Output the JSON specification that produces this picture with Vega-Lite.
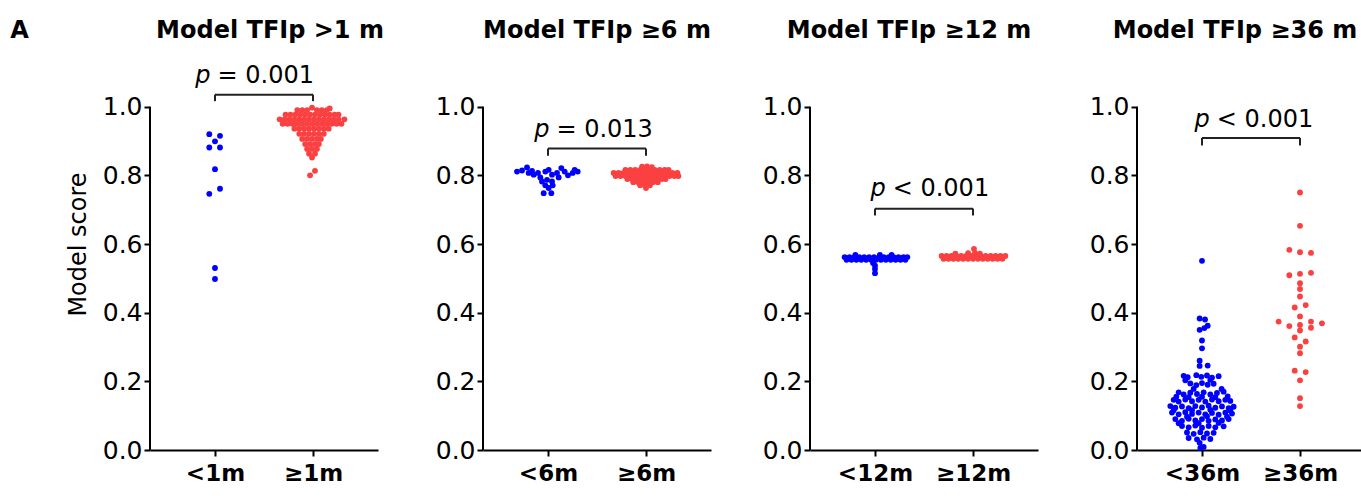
{
  "$schema": "https://vega.github.io/schema/vega-lite/v6.json",
  "padding": {"left": 10, "top": 19, "right": 2, "bottom": 5},
  "title": {"text": "A", "anchor": "start", "frame": "bounds", "fontSize": 24, "fontWeight": "bold", "dx": -56, "offset": -43, "baseline": "alphabetic", "color": "black"},
  "config": {
    "font": "DejaVu Sans",
    "view": {"stroke": null},
    "axis": {"grid": false, "domainColor": "black", "domainWidth": 2, "tickColor": "black", "tickWidth": 2, "tickSize": 6, "labelColor": "black", "titleColor": "black"},
    "axisY": {"domain": false, "labelFontSize": 25, "labelPadding": 2, "titleFontSize": 24, "titleFontWeight": "normal", "titlePadding": 12},
    "axisX": {"labelFontSize": 23, "labelFontWeight": "bold", "labelPadding": 6, "labelAngle": 0},
    "title": {"fontSize": 24, "fontWeight": "bold", "color": "black", "frame": "group", "anchor": "middle", "baseline": "alphabetic", "offset": -5}
  },
  "spacing": 51,
  "datasets": {
    "ann": [
      {"p": 1, "yt": 1.035, "yb": 1.016, "tx": -0.015, "ty": 1.069, "t": "= 0.001"},
      {"p": 2, "yt": 0.878, "yb": 0.857, "tx": 0.045, "ty": 0.913, "t": "= 0.013"},
      {"p": 3, "yt": 0.703, "yb": 0.683, "tx": 0.14, "ty": 0.741, "t": "< 0.001"},
      {"p": 4, "yt": 0.909, "yb": 0.887, "tx": 0.11, "ty": 0.941, "t": "< 0.001"}
    ],
    "pts": [
      {"p":1,"g":0,"x":-0.058,"s":0.920},{"p":1,"g":0,"x":0.051,"s":0.915},{"p":1,"g":0,"x":0.0,"s":0.899},{"p":1,"g":0,"x":-0.058,"s":0.881},{"p":1,"g":0,"x":0.051,"s":0.881},{"p":1,"g":0,"x":0.0,"s":0.818},{"p":1,"g":0,"x":-0.058,"s":0.746},{"p":1,"g":0,"x":0.051,"s":0.761},{"p":1,"g":0,"x":0.0,"s":0.530},{"p":1,"g":0,"x":0.0,"s":0.498},
      {"p":1,"g":1,"x":0.99,"s":0.997},{"p":1,"g":1,"x":1.17,"s":0.995},
      {"p":1,"g":1,"x":0.84,"s":0.990},{"p":1,"g":1,"x":0.89,"s":0.990},{"p":1,"g":1,"x":0.94,"s":0.990},{"p":1,"g":1,"x":1.04,"s":0.990},{"p":1,"g":1,"x":1.09,"s":0.990},{"p":1,"g":1,"x":1.14,"s":0.990},
      {"p":1,"g":1,"x":0.72,"s":0.977},{"p":1,"g":1,"x":0.77,"s":0.977},{"p":1,"g":1,"x":0.82,"s":0.977},{"p":1,"g":1,"x":0.87,"s":0.977},{"p":1,"g":1,"x":0.92,"s":0.977},{"p":1,"g":1,"x":0.97,"s":0.977},{"p":1,"g":1,"x":1.02,"s":0.977},{"p":1,"g":1,"x":1.07,"s":0.977},{"p":1,"g":1,"x":1.12,"s":0.977},{"p":1,"g":1,"x":1.17,"s":0.977},{"p":1,"g":1,"x":1.22,"s":0.977},{"p":1,"g":1,"x":1.26,"s":0.977},
      {"p":1,"g":1,"x":0.66,"s":0.963},{"p":1,"g":1,"x":0.71,"s":0.963},{"p":1,"g":1,"x":0.76,"s":0.963},{"p":1,"g":1,"x":0.81,"s":0.963},{"p":1,"g":1,"x":0.86,"s":0.963},{"p":1,"g":1,"x":0.91,"s":0.963},{"p":1,"g":1,"x":0.96,"s":0.963},{"p":1,"g":1,"x":1.01,"s":0.963},{"p":1,"g":1,"x":1.06,"s":0.963},{"p":1,"g":1,"x":1.11,"s":0.963},{"p":1,"g":1,"x":1.16,"s":0.963},{"p":1,"g":1,"x":1.21,"s":0.963},{"p":1,"g":1,"x":1.26,"s":0.963},{"p":1,"g":1,"x":1.32,"s":0.963},
      {"p":1,"g":1,"x":0.69,"s":0.950},{"p":1,"g":1,"x":0.74,"s":0.950},{"p":1,"g":1,"x":0.79,"s":0.950},{"p":1,"g":1,"x":0.84,"s":0.950},{"p":1,"g":1,"x":0.89,"s":0.950},{"p":1,"g":1,"x":0.94,"s":0.950},{"p":1,"g":1,"x":0.99,"s":0.950},{"p":1,"g":1,"x":1.04,"s":0.950},{"p":1,"g":1,"x":1.09,"s":0.950},{"p":1,"g":1,"x":1.14,"s":0.950},{"p":1,"g":1,"x":1.19,"s":0.950},{"p":1,"g":1,"x":1.24,"s":0.950},{"p":1,"g":1,"x":1.29,"s":0.950},
      {"p":1,"g":1,"x":0.81,"s":0.936},{"p":1,"g":1,"x":0.86,"s":0.936},{"p":1,"g":1,"x":0.91,"s":0.936},{"p":1,"g":1,"x":0.96,"s":0.936},{"p":1,"g":1,"x":1.01,"s":0.936},{"p":1,"g":1,"x":1.06,"s":0.936},{"p":1,"g":1,"x":1.11,"s":0.936},{"p":1,"g":1,"x":1.16,"s":0.936},
      {"p":1,"g":1,"x":0.86,"s":0.921},{"p":1,"g":1,"x":0.91,"s":0.921},{"p":1,"g":1,"x":0.96,"s":0.921},{"p":1,"g":1,"x":1.01,"s":0.921},{"p":1,"g":1,"x":1.06,"s":0.921},{"p":1,"g":1,"x":1.11,"s":0.921},
      {"p":1,"g":1,"x":0.89,"s":0.906},{"p":1,"g":1,"x":0.94,"s":0.906},{"p":1,"g":1,"x":0.99,"s":0.906},{"p":1,"g":1,"x":1.04,"s":0.906},{"p":1,"g":1,"x":1.08,"s":0.906},
      {"p":1,"g":1,"x":0.92,"s":0.891},{"p":1,"g":1,"x":0.97,"s":0.891},{"p":1,"g":1,"x":1.02,"s":0.891},{"p":1,"g":1,"x":1.06,"s":0.891},
      {"p":1,"g":1,"x":0.94,"s":0.877},{"p":1,"g":1,"x":0.99,"s":0.877},{"p":1,"g":1,"x":1.04,"s":0.877},
      {"p":1,"g":1,"x":0.96,"s":0.863},{"p":1,"g":1,"x":1.02,"s":0.863},
      {"p":1,"g":1,"x":0.99,"s":0.852},
      {"p":1,"g":1,"x":1.02,"s":0.813},{"p":1,"g":1,"x":0.97,"s":0.800},

      {"p":2,"g":0,"x":-0.316,"s":0.811},{"p":2,"g":0,"x":-0.265,"s":0.814},{"p":2,"g":0,"x":-0.214,"s":0.823},{"p":2,"g":0,"x":-0.197,"s":0.807},{"p":2,"g":0,"x":-0.163,"s":0.813},{"p":2,"g":0,"x":-0.146,"s":0.802},{"p":2,"g":0,"x":-0.102,"s":0.807},{"p":2,"g":0,"x":-0.078,"s":0.794},{"p":2,"g":0,"x":-0.027,"s":0.811},{"p":2,"g":0,"x":0.007,"s":0.816},{"p":2,"g":0,"x":0.041,"s":0.802},{"p":2,"g":0,"x":0.092,"s":0.807},{"p":2,"g":0,"x":0.109,"s":0.794},{"p":2,"g":0,"x":0.136,"s":0.821},{"p":2,"g":0,"x":0.170,"s":0.811},{"p":2,"g":0,"x":0.204,"s":0.800},{"p":2,"g":0,"x":0.252,"s":0.807},{"p":2,"g":0,"x":0.272,"s":0.816},{"p":2,"g":0,"x":0.303,"s":0.811},
      {"p":2,"g":0,"x":-0.061,"s":0.782},{"p":2,"g":0,"x":-0.010,"s":0.787},{"p":2,"g":0,"x":0.041,"s":0.782},{"p":2,"g":0,"x":-0.027,"s":0.771},{"p":2,"g":0,"x":0.048,"s":0.771},{"p":2,"g":0,"x":0.007,"s":0.763},{"p":2,"g":0,"x":-0.044,"s":0.748},{"p":2,"g":0,"x":0.034,"s":0.748},
      {"p":2,"g":1,"x":0.96,"s":0.825},{"p":2,"g":1,"x":1.01,"s":0.826},{"p":2,"g":1,"x":1.06,"s":0.824},
      {"p":2,"g":1,"x":0.79,"s":0.816},{"p":2,"g":1,"x":0.84,"s":0.816},{"p":2,"g":1,"x":0.89,"s":0.816},{"p":2,"g":1,"x":0.94,"s":0.816},{"p":2,"g":1,"x":0.99,"s":0.816},{"p":2,"g":1,"x":1.04,"s":0.816},{"p":2,"g":1,"x":1.09,"s":0.816},{"p":2,"g":1,"x":1.14,"s":0.816},{"p":2,"g":1,"x":1.19,"s":0.816},{"p":2,"g":1,"x":1.23,"s":0.816},
      {"p":2,"g":1,"x":0.67,"s":0.807},{"p":2,"g":1,"x":0.72,"s":0.807},{"p":2,"g":1,"x":0.77,"s":0.807},{"p":2,"g":1,"x":0.82,"s":0.807},{"p":2,"g":1,"x":0.87,"s":0.807},{"p":2,"g":1,"x":0.92,"s":0.807},{"p":2,"g":1,"x":0.97,"s":0.807},{"p":2,"g":1,"x":1.02,"s":0.807},{"p":2,"g":1,"x":1.07,"s":0.807},{"p":2,"g":1,"x":1.12,"s":0.807},{"p":2,"g":1,"x":1.17,"s":0.807},{"p":2,"g":1,"x":1.22,"s":0.807},{"p":2,"g":1,"x":1.27,"s":0.807},{"p":2,"g":1,"x":1.32,"s":0.807},
      {"p":2,"g":1,"x":0.69,"s":0.798},{"p":2,"g":1,"x":0.74,"s":0.798},{"p":2,"g":1,"x":0.79,"s":0.798},{"p":2,"g":1,"x":0.84,"s":0.798},{"p":2,"g":1,"x":0.89,"s":0.798},{"p":2,"g":1,"x":0.94,"s":0.798},{"p":2,"g":1,"x":0.99,"s":0.798},{"p":2,"g":1,"x":1.04,"s":0.798},{"p":2,"g":1,"x":1.09,"s":0.798},{"p":2,"g":1,"x":1.14,"s":0.798},{"p":2,"g":1,"x":1.19,"s":0.798},{"p":2,"g":1,"x":1.24,"s":0.798},{"p":2,"g":1,"x":1.29,"s":0.798},{"p":2,"g":1,"x":1.33,"s":0.798},
      {"p":2,"g":1,"x":0.81,"s":0.789},{"p":2,"g":1,"x":0.86,"s":0.789},{"p":2,"g":1,"x":0.91,"s":0.789},{"p":2,"g":1,"x":0.96,"s":0.789},{"p":2,"g":1,"x":1.01,"s":0.789},{"p":2,"g":1,"x":1.06,"s":0.789},{"p":2,"g":1,"x":1.11,"s":0.789},{"p":2,"g":1,"x":1.16,"s":0.789},{"p":2,"g":1,"x":1.20,"s":0.789},
      {"p":2,"g":1,"x":0.87,"s":0.780},{"p":2,"g":1,"x":0.92,"s":0.780},{"p":2,"g":1,"x":0.97,"s":0.780},{"p":2,"g":1,"x":1.02,"s":0.780},{"p":2,"g":1,"x":1.07,"s":0.780},{"p":2,"g":1,"x":1.12,"s":0.780},
      {"p":2,"g":1,"x":0.94,"s":0.771},{"p":2,"g":1,"x":0.99,"s":0.771},{"p":2,"g":1,"x":1.04,"s":0.771},
      {"p":2,"g":1,"x":1.0,"s":0.763},

      {"p":3,"g":0,"x":-0.31,"s":0.562},{"p":3,"g":0,"x":-0.26,"s":0.562},{"p":3,"g":0,"x":-0.21,"s":0.562},{"p":3,"g":0,"x":-0.16,"s":0.562},{"p":3,"g":0,"x":-0.11,"s":0.562},{"p":3,"g":0,"x":-0.06,"s":0.562},{"p":3,"g":0,"x":-0.01,"s":0.562},{"p":3,"g":0,"x":0.04,"s":0.562},{"p":3,"g":0,"x":0.09,"s":0.562},{"p":3,"g":0,"x":0.14,"s":0.562},{"p":3,"g":0,"x":0.19,"s":0.562},{"p":3,"g":0,"x":0.24,"s":0.562},{"p":3,"g":0,"x":0.29,"s":0.562},{"p":3,"g":0,"x":0.33,"s":0.562},
      {"p":3,"g":0,"x":-0.29,"s":0.554},{"p":3,"g":0,"x":-0.24,"s":0.554},{"p":3,"g":0,"x":-0.19,"s":0.554},{"p":3,"g":0,"x":-0.14,"s":0.554},{"p":3,"g":0,"x":-0.09,"s":0.554},{"p":3,"g":0,"x":-0.04,"s":0.554},{"p":3,"g":0,"x":0.01,"s":0.554},{"p":3,"g":0,"x":0.06,"s":0.554},{"p":3,"g":0,"x":0.11,"s":0.554},{"p":3,"g":0,"x":0.16,"s":0.554},{"p":3,"g":0,"x":0.21,"s":0.554},{"p":3,"g":0,"x":0.26,"s":0.554},{"p":3,"g":0,"x":0.31,"s":0.554},
      {"p":3,"g":0,"x":-0.20,"s":0.568},{"p":3,"g":0,"x":0.05,"s":0.568},{"p":3,"g":0,"x":0.17,"s":0.568},
      {"p":3,"g":0,"x":-0.02,"s":0.545},{"p":3,"g":0,"x":0.0,"s":0.537},{"p":3,"g":0,"x":0.0,"s":0.527},{"p":3,"g":0,"x":0.0,"s":0.515},
      {"p":3,"g":1,"x":0.68,"s":0.565},{"p":3,"g":1,"x":0.73,"s":0.565},{"p":3,"g":1,"x":0.78,"s":0.565},{"p":3,"g":1,"x":0.83,"s":0.565},{"p":3,"g":1,"x":0.88,"s":0.565},{"p":3,"g":1,"x":0.93,"s":0.565},{"p":3,"g":1,"x":0.98,"s":0.565},{"p":3,"g":1,"x":1.03,"s":0.565},{"p":3,"g":1,"x":1.08,"s":0.565},{"p":3,"g":1,"x":1.13,"s":0.565},{"p":3,"g":1,"x":1.18,"s":0.565},{"p":3,"g":1,"x":1.23,"s":0.565},{"p":3,"g":1,"x":1.28,"s":0.565},{"p":3,"g":1,"x":1.33,"s":0.565},
      {"p":3,"g":1,"x":0.70,"s":0.557},{"p":3,"g":1,"x":0.75,"s":0.557},{"p":3,"g":1,"x":0.80,"s":0.557},{"p":3,"g":1,"x":0.85,"s":0.557},{"p":3,"g":1,"x":0.90,"s":0.557},{"p":3,"g":1,"x":0.95,"s":0.557},{"p":3,"g":1,"x":1.00,"s":0.557},{"p":3,"g":1,"x":1.05,"s":0.557},{"p":3,"g":1,"x":1.10,"s":0.557},{"p":3,"g":1,"x":1.15,"s":0.557},{"p":3,"g":1,"x":1.20,"s":0.557},{"p":3,"g":1,"x":1.25,"s":0.557},{"p":3,"g":1,"x":1.30,"s":0.557},
      {"p":3,"g":1,"x":0.82,"s":0.572},{"p":3,"g":1,"x":0.95,"s":0.573},{"p":3,"g":1,"x":1.02,"s":0.574},{"p":3,"g":1,"x":1.07,"s":0.572},{"p":3,"g":1,"x":1.01,"s":0.586},

      {"p":4,"g":0,"x":0.0,"s":0.551},{"p":4,"g":0,"x":-0.024,"s":0.383},{"p":4,"g":0,"x":0.031,"s":0.380},{"p":4,"g":0,"x":-0.024,"s":0.350},{"p":4,"g":0,"x":0.024,"s":0.355},{"p":4,"g":0,"x":0.058,"s":0.362},{"p":4,"g":0,"x":0.0,"s":0.319},{"p":4,"g":0,"x":0.0,"s":0.296},{"p":4,"g":0,"x":-0.024,"s":0.260},{"p":4,"g":0,"x":-0.024,"s":0.245},{"p":4,"g":0,"x":0.058,"s":0.246},
      {"p":4,"g":0,"x":-0.187,"s":0.216},{"p":4,"g":0,"x":-0.146,"s":0.212},{"p":4,"g":0,"x":-0.058,"s":0.218},{"p":4,"g":0,"x":-0.007,"s":0.213},{"p":4,"g":0,"x":0.051,"s":0.217},{"p":4,"g":0,"x":0.102,"s":0.211},{"p":4,"g":0,"x":0.170,"s":0.215},
      {"p":4,"g":0,"x":-0.17,"s":0.203},{"p":4,"g":0,"x":0.085,"s":0.204},
      {"p":4,"g":0,"x":-0.119,"s":0.194},{"p":4,"g":0,"x":-0.058,"s":0.189},{"p":4,"g":0,"x":0.0,"s":0.195},{"p":4,"g":0,"x":0.058,"s":0.190},{"p":4,"g":0,"x":0.119,"s":0.193},
      {"p":4,"g":0,"x":0.2,"s":0.178},{"p":4,"g":0,"x":-0.085,"s":0.178},
      {"p":4,"g":0,"x":-0.238,"s":0.168},{"p":4,"g":0,"x":-0.187,"s":0.162},{"p":4,"g":0,"x":-0.119,"s":0.167},{"p":4,"g":0,"x":-0.051,"s":0.163},{"p":4,"g":0,"x":0.017,"s":0.168},{"p":4,"g":0,"x":0.085,"s":0.162},{"p":4,"g":0,"x":0.153,"s":0.166},{"p":4,"g":0,"x":0.221,"s":0.170},
      {"p":4,"g":0,"x":-0.262,"s":0.155},{"p":4,"g":0,"x":-0.136,"s":0.154},{"p":4,"g":0,"x":0.0,"s":0.155},{"p":4,"g":0,"x":0.136,"s":0.154},{"p":4,"g":0,"x":0.262,"s":0.156},
      {"p":4,"g":0,"x":-0.289,"s":0.146},{"p":4,"g":0,"x":-0.238,"s":0.141},{"p":4,"g":0,"x":-0.170,"s":0.147},{"p":4,"g":0,"x":-0.102,"s":0.142},{"p":4,"g":0,"x":-0.034,"s":0.146},{"p":4,"g":0,"x":0.034,"s":0.141},{"p":4,"g":0,"x":0.102,"s":0.147},{"p":4,"g":0,"x":0.170,"s":0.142},{"p":4,"g":0,"x":0.238,"s":0.146},{"p":4,"g":0,"x":0.289,"s":0.143},
      {"p":4,"g":0,"x":-0.323,"s":0.128},{"p":4,"g":0,"x":-0.272,"s":0.123},{"p":4,"g":0,"x":-0.204,"s":0.127},{"p":4,"g":0,"x":-0.136,"s":0.122},{"p":4,"g":0,"x":-0.068,"s":0.128},{"p":4,"g":0,"x":0.0,"s":0.124},{"p":4,"g":0,"x":0.068,"s":0.129},{"p":4,"g":0,"x":0.136,"s":0.123},{"p":4,"g":0,"x":0.204,"s":0.127},{"p":4,"g":0,"x":0.272,"s":0.122},{"p":4,"g":0,"x":0.323,"s":0.126},
      {"p":4,"g":0,"x":-0.289,"s":0.116},{"p":4,"g":0,"x":-0.102,"s":0.116},{"p":4,"g":0,"x":0.085,"s":0.117},{"p":4,"g":0,"x":0.289,"s":0.115},
      {"p":4,"g":0,"x":-0.306,"s":0.109},{"p":4,"g":0,"x":-0.238,"s":0.104},{"p":4,"g":0,"x":-0.17,"s":0.110},{"p":4,"g":0,"x":-0.102,"s":0.105},{"p":4,"g":0,"x":-0.034,"s":0.109},{"p":4,"g":0,"x":0.034,"s":0.104},{"p":4,"g":0,"x":0.102,"s":0.108},{"p":4,"g":0,"x":0.17,"s":0.103},{"p":4,"g":0,"x":0.238,"s":0.109},{"p":4,"g":0,"x":0.306,"s":0.106},
      {"p":4,"g":0,"x":-0.153,"s":0.097},{"p":4,"g":0,"x":0.051,"s":0.098},{"p":4,"g":0,"x":0.255,"s":0.097},
      {"p":4,"g":0,"x":-0.272,"s":0.090},{"p":4,"g":0,"x":-0.204,"s":0.085},{"p":4,"g":0,"x":-0.136,"s":0.091},{"p":4,"g":0,"x":-0.068,"s":0.086},{"p":4,"g":0,"x":0.0,"s":0.090},{"p":4,"g":0,"x":0.068,"s":0.085},{"p":4,"g":0,"x":0.136,"s":0.089},{"p":4,"g":0,"x":0.204,"s":0.086},{"p":4,"g":0,"x":0.272,"s":0.090},
      {"p":4,"g":0,"x":-0.238,"s":0.078},{"p":4,"g":0,"x":-0.034,"s":0.078},{"p":4,"g":0,"x":0.17,"s":0.079},
      {"p":4,"g":0,"x":-0.204,"s":0.070},{"p":4,"g":0,"x":-0.136,"s":0.066},{"p":4,"g":0,"x":-0.068,"s":0.071},{"p":4,"g":0,"x":0.0,"s":0.065},{"p":4,"g":0,"x":0.068,"s":0.070},{"p":4,"g":0,"x":0.136,"s":0.066},{"p":4,"g":0,"x":0.221,"s":0.069},
      {"p":4,"g":0,"x":-0.153,"s":0.051},{"p":4,"g":0,"x":-0.085,"s":0.047},{"p":4,"g":0,"x":-0.017,"s":0.052},{"p":4,"g":0,"x":0.051,"s":0.048},{"p":4,"g":0,"x":0.119,"s":0.050},
      {"p":4,"g":0,"x":-0.136,"s":0.035},{"p":4,"g":0,"x":-0.051,"s":0.031},{"p":4,"g":0,"x":0.017,"s":0.036},{"p":4,"g":0,"x":0.085,"s":0.032},
      {"p":4,"g":0,"x":-0.024,"s":0.021},{"p":4,"g":0,"x":-0.017,"s":0.006},{"p":4,"g":0,"x":0.017,"s":0.009},
      {"p":4,"g":1,"x":1.0,"s":0.750},{"p":4,"g":1,"x":1.0,"s":0.653},{"p":4,"g":1,"x":0.891,"s":0.583},{"p":4,"g":1,"x":1.0,"s":0.576},{"p":4,"g":1,"x":1.112,"s":0.574},{"p":4,"g":1,"x":0.891,"s":0.509},{"p":4,"g":1,"x":1.0,"s":0.513},{"p":4,"g":1,"x":1.112,"s":0.516},{"p":4,"g":1,"x":1.0,"s":0.486},{"p":4,"g":1,"x":1.0,"s":0.469},{"p":4,"g":1,"x":1.0,"s":0.447},{"p":4,"g":1,"x":0.946,"s":0.415},{"p":4,"g":1,"x":1.058,"s":0.422},{"p":4,"g":1,"x":1.0,"s":0.389},{"p":4,"g":1,"x":0.782,"s":0.374},{"p":4,"g":1,"x":0.891,"s":0.361},{"p":4,"g":1,"x":1.0,"s":0.364},{"p":4,"g":1,"x":1.112,"s":0.374},{"p":4,"g":1,"x":1.224,"s":0.369},{"p":4,"g":1,"x":1.0,"s":0.348},{"p":4,"g":1,"x":1.112,"s":0.356},{"p":4,"g":1,"x":0.946,"s":0.328},{"p":4,"g":1,"x":1.058,"s":0.316},{"p":4,"g":1,"x":1.0,"s":0.301},{"p":4,"g":1,"x":1.0,"s":0.282},{"p":4,"g":1,"x":0.946,"s":0.231},{"p":4,"g":1,"x":1.058,"s":0.227},{"p":4,"g":1,"x":1.0,"s":0.203},{"p":4,"g":1,"x":1.0,"s":0.151},{"p":4,"g":1,"x":1.0,"s":0.128}
    ]
  },
  "hconcat": [
    {
      "width": 228, "height": 412,
      "title": {"text": "Model TFIp >1 m", "dx": 6},
      "layer": [
        {"data": {"name": "pts"}, "transform": [{"filter": "datum.p == 1"}],
         "mark": {"type": "point", "filled": true, "size": 34, "opacity": 1},
         "encoding": {
           "x": {"field": "x", "type": "quantitative", "scale": {"domain": [-0.663, 1.663], "nice": false, "zero": false}, "axis": {"values": [0, 1], "labelExpr": "datum.value == 0 ? '<1m' : '≥1m'", "title": null}},
           "y": {"field": "s", "type": "quantitative", "scale": {"domain": [0, 1.2], "nice": false}, "axis": {"values": [0, 0.2, 0.4, 0.6, 0.8, 1], "format": ".1f", "title": "Model score"}},
           "color": {"field": "g", "type": "nominal", "scale": {"domain": [0, 1], "range": ["#0000FF", "#FA4040"]}, "legend": null}
         }},
        {"data": {"values": [{}]}, "mark": {"type": "rule", "color": "black", "strokeWidth": 2}, "encoding": {"x": {"datum": -0.663}, "y": {"datum": 0}, "y2": {"datum": 1}}},
        {"data": {"name": "ann"}, "transform": [{"filter": "datum.p == 1"}], "mark": {"type": "rule", "color": "#222222", "strokeWidth": 2}, "encoding": {"x": {"datum": 0}, "x2": {"datum": 1}, "y": {"field": "yt", "type": "quantitative"}}},
        {"data": {"name": "ann"}, "transform": [{"filter": "datum.p == 1"}], "mark": {"type": "rule", "color": "#222222", "strokeWidth": 2}, "encoding": {"x": {"datum": 0}, "y": {"field": "yt", "type": "quantitative"}, "y2": {"field": "yb"}}},
        {"data": {"name": "ann"}, "transform": [{"filter": "datum.p == 1"}], "mark": {"type": "rule", "color": "#222222", "strokeWidth": 2}, "encoding": {"x": {"datum": 1}, "y": {"field": "yt", "type": "quantitative"}, "y2": {"field": "yb"}}},
        {"data": {"name": "ann"}, "transform": [{"filter": "datum.p == 1"}], "mark": {"type": "text", "text": "p", "fontStyle": "italic", "align": "right", "baseline": "alphabetic", "dx": -3, "fontSize": 24, "color": "black"}, "encoding": {"x": {"field": "tx", "type": "quantitative"}, "y": {"field": "ty", "type": "quantitative"}}},
        {"data": {"name": "ann"}, "transform": [{"filter": "datum.p == 1"}], "mark": {"type": "text", "align": "left", "baseline": "alphabetic", "dx": 4, "fontSize": 24, "color": "black"}, "encoding": {"x": {"field": "tx", "type": "quantitative"}, "y": {"field": "ty", "type": "quantitative"}, "text": {"field": "t"}}}
      ]
    },
    {
      "width": 228, "height": 412,
      "title": {"text": "Model TFIp ≥6 m"},
      "layer": [
        {"data": {"name": "pts"}, "transform": [{"filter": "datum.p == 2"}],
         "mark": {"type": "point", "filled": true, "size": 34, "opacity": 1},
         "encoding": {
           "x": {"field": "x", "type": "quantitative", "scale": {"domain": [-0.663, 1.663], "nice": false, "zero": false}, "axis": {"values": [0, 1], "labelExpr": "datum.value == 0 ? '<6m' : '≥6m'", "title": null}},
           "y": {"field": "s", "type": "quantitative", "scale": {"domain": [0, 1.2], "nice": false}, "axis": {"values": [0, 0.2, 0.4, 0.6, 0.8, 1], "format": ".1f", "title": null}},
           "color": {"field": "g", "type": "nominal", "scale": {"domain": [0, 1], "range": ["#0000FF", "#FA4040"]}, "legend": null}
         }},
        {"data": {"values": [{}]}, "mark": {"type": "rule", "color": "black", "strokeWidth": 2}, "encoding": {"x": {"datum": -0.663}, "y": {"datum": 0}, "y2": {"datum": 1}}},
        {"data": {"name": "ann"}, "transform": [{"filter": "datum.p == 2"}], "mark": {"type": "rule", "color": "#222222", "strokeWidth": 2}, "encoding": {"x": {"datum": 0}, "x2": {"datum": 1}, "y": {"field": "yt", "type": "quantitative"}}},
        {"data": {"name": "ann"}, "transform": [{"filter": "datum.p == 2"}], "mark": {"type": "rule", "color": "#222222", "strokeWidth": 2}, "encoding": {"x": {"datum": 0}, "y": {"field": "yt", "type": "quantitative"}, "y2": {"field": "yb"}}},
        {"data": {"name": "ann"}, "transform": [{"filter": "datum.p == 2"}], "mark": {"type": "rule", "color": "#222222", "strokeWidth": 2}, "encoding": {"x": {"datum": 1}, "y": {"field": "yt", "type": "quantitative"}, "y2": {"field": "yb"}}},
        {"data": {"name": "ann"}, "transform": [{"filter": "datum.p == 2"}], "mark": {"type": "text", "text": "p", "fontStyle": "italic", "align": "right", "baseline": "alphabetic", "dx": -3, "fontSize": 24, "color": "black"}, "encoding": {"x": {"field": "tx", "type": "quantitative"}, "y": {"field": "ty", "type": "quantitative"}}},
        {"data": {"name": "ann"}, "transform": [{"filter": "datum.p == 2"}], "mark": {"type": "text", "align": "left", "baseline": "alphabetic", "dx": 4, "fontSize": 24, "color": "black"}, "encoding": {"x": {"field": "tx", "type": "quantitative"}, "y": {"field": "ty", "type": "quantitative"}, "text": {"field": "t"}}}
      ]
    },
    {
      "width": 228, "height": 412,
      "title": {"text": "Model TFIp ≥12 m", "dx": -15},
      "layer": [
        {"data": {"name": "pts"}, "transform": [{"filter": "datum.p == 3"}],
         "mark": {"type": "point", "filled": true, "size": 34, "opacity": 1},
         "encoding": {
           "x": {"field": "x", "type": "quantitative", "scale": {"domain": [-0.663, 1.663], "nice": false, "zero": false}, "axis": {"values": [0, 1], "labelExpr": "datum.value == 0 ? '<12m' : '≥12m'", "title": null}},
           "y": {"field": "s", "type": "quantitative", "scale": {"domain": [0, 1.2], "nice": false}, "axis": {"values": [0, 0.2, 0.4, 0.6, 0.8, 1], "format": ".1f", "title": null}},
           "color": {"field": "g", "type": "nominal", "scale": {"domain": [0, 1], "range": ["#0000FF", "#FA4040"]}, "legend": null}
         }},
        {"data": {"values": [{}]}, "mark": {"type": "rule", "color": "black", "strokeWidth": 2}, "encoding": {"x": {"datum": -0.663}, "y": {"datum": 0}, "y2": {"datum": 1}}},
        {"data": {"name": "ann"}, "transform": [{"filter": "datum.p == 3"}], "mark": {"type": "rule", "color": "#222222", "strokeWidth": 2}, "encoding": {"x": {"datum": 0}, "x2": {"datum": 1}, "y": {"field": "yt", "type": "quantitative"}}},
        {"data": {"name": "ann"}, "transform": [{"filter": "datum.p == 3"}], "mark": {"type": "rule", "color": "#222222", "strokeWidth": 2}, "encoding": {"x": {"datum": 0}, "y": {"field": "yt", "type": "quantitative"}, "y2": {"field": "yb"}}},
        {"data": {"name": "ann"}, "transform": [{"filter": "datum.p == 3"}], "mark": {"type": "rule", "color": "#222222", "strokeWidth": 2}, "encoding": {"x": {"datum": 1}, "y": {"field": "yt", "type": "quantitative"}, "y2": {"field": "yb"}}},
        {"data": {"name": "ann"}, "transform": [{"filter": "datum.p == 3"}], "mark": {"type": "text", "text": "p", "fontStyle": "italic", "align": "right", "baseline": "alphabetic", "dx": -3, "fontSize": 24, "color": "black"}, "encoding": {"x": {"field": "tx", "type": "quantitative"}, "y": {"field": "ty", "type": "quantitative"}}},
        {"data": {"name": "ann"}, "transform": [{"filter": "datum.p == 3"}], "mark": {"type": "text", "align": "left", "baseline": "alphabetic", "dx": 4, "fontSize": 24, "color": "black"}, "encoding": {"x": {"field": "tx", "type": "quantitative"}, "y": {"field": "ty", "type": "quantitative"}, "text": {"field": "t"}}}
      ]
    },
    {
      "width": 228, "height": 412,
      "title": {"text": "Model TFIp ≥36 m", "dx": -16},
      "layer": [
        {"data": {"name": "pts"}, "transform": [{"filter": "datum.p == 4"}],
         "mark": {"type": "point", "filled": true, "size": 34, "opacity": 1},
         "encoding": {
           "x": {"field": "x", "type": "quantitative", "scale": {"domain": [-0.663, 1.663], "nice": false, "zero": false}, "axis": {"values": [0, 1], "labelExpr": "datum.value == 0 ? '<36m' : '≥36m'", "title": null}},
           "y": {"field": "s", "type": "quantitative", "scale": {"domain": [0, 1.2], "nice": false}, "axis": {"values": [0, 0.2, 0.4, 0.6, 0.8, 1], "format": ".1f", "title": null}},
           "color": {"field": "g", "type": "nominal", "scale": {"domain": [0, 1], "range": ["#0000FF", "#FA4040"]}, "legend": null}
         }},
        {"data": {"values": [{}]}, "mark": {"type": "rule", "color": "black", "strokeWidth": 2}, "encoding": {"x": {"datum": -0.663}, "y": {"datum": 0}, "y2": {"datum": 1}}},
        {"data": {"name": "ann"}, "transform": [{"filter": "datum.p == 4"}], "mark": {"type": "rule", "color": "#222222", "strokeWidth": 2}, "encoding": {"x": {"datum": 0}, "x2": {"datum": 1}, "y": {"field": "yt", "type": "quantitative"}}},
        {"data": {"name": "ann"}, "transform": [{"filter": "datum.p == 4"}], "mark": {"type": "rule", "color": "#222222", "strokeWidth": 2}, "encoding": {"x": {"datum": 0}, "y": {"field": "yt", "type": "quantitative"}, "y2": {"field": "yb"}}},
        {"data": {"name": "ann"}, "transform": [{"filter": "datum.p == 4"}], "mark": {"type": "rule", "color": "#222222", "strokeWidth": 2}, "encoding": {"x": {"datum": 1}, "y": {"field": "yt", "type": "quantitative"}, "y2": {"field": "yb"}}},
        {"data": {"name": "ann"}, "transform": [{"filter": "datum.p == 4"}], "mark": {"type": "text", "text": "p", "fontStyle": "italic", "align": "right", "baseline": "alphabetic", "dx": -3, "fontSize": 24, "color": "black"}, "encoding": {"x": {"field": "tx", "type": "quantitative"}, "y": {"field": "ty", "type": "quantitative"}}},
        {"data": {"name": "ann"}, "transform": [{"filter": "datum.p == 4"}], "mark": {"type": "text", "align": "left", "baseline": "alphabetic", "dx": 4, "fontSize": 24, "color": "black"}, "encoding": {"x": {"field": "tx", "type": "quantitative"}, "y": {"field": "ty", "type": "quantitative"}, "text": {"field": "t"}}}
      ]
    }
  ]
}
